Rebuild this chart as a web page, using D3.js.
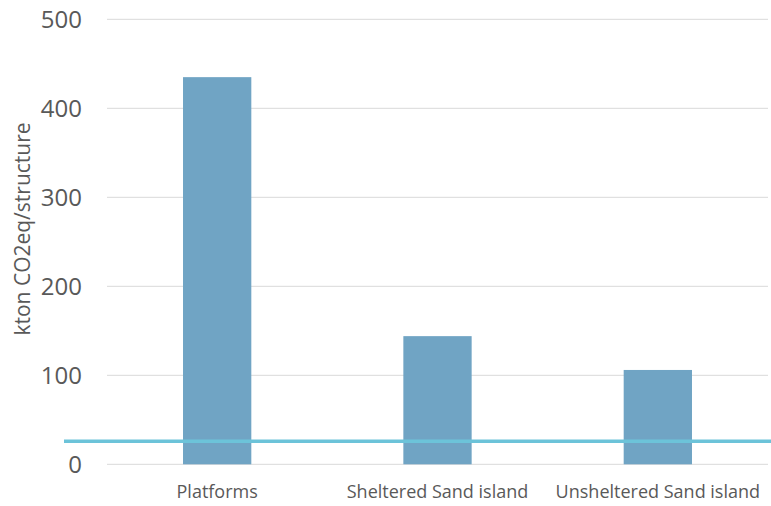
<!DOCTYPE html>
<html>
<head>
<meta charset="utf-8">
<script src="https://cdn.jsdelivr.net/npm/d3@7"></script>
<style>
  html, body { margin: 0; padding: 0; background: #fff; }
  svg { display: block; font-family: "Open Sans", "Noto Sans", sans-serif; }
</style>
</head>
<body>
<svg id="chart" width="771" height="506"></svg>
<script>
const categories = ["Platforms", "Sheltered Sand island", "Unsheltered Sand island"];
const values = [435, 144, 106];
const referenceValue = 26;
const yTicks = [0, 100, 200, 300, 400, 500];
const yTitle = "kton CO2eq/structure";

const W = 771, H = 506;
const margin = { left: 107, right: 3, top: 19.3, bottom: 41.7 };
const svg = d3.select("#chart");

const x = d3.scaleBand()
  .domain(categories)
  .range([margin.left, W - margin.right])
  .paddingInner(0.69)
  .paddingOuter(0.345);

const y = d3.scaleLinear()
  .domain([0, 500])
  .range([H - margin.bottom, margin.top]);

// gridlines
svg.append("g")
  .selectAll("line")
  .data(yTicks)
  .join("line")
  .attr("x1", margin.left)
  .attr("x2", W - margin.right)
  .attr("y1", d => y(d))
  .attr("y2", d => y(d))
  .attr("stroke", "#d9d9d9")
  .attr("stroke-width", 1);

// y axis labels
const yAxis = d3.axisLeft(y).tickValues(yTicks).tickSize(0).tickPadding(0);
const gy = svg.append("g")
  .attr("transform", `translate(${82},0)`)
  .call(yAxis);
gy.select(".domain").remove();
gy.selectAll("text")
  .attr("font-size", 24)
  .attr("font-family", "Open Sans, sans-serif")
  .attr("fill", "#595959")
  .attr("dy", "0.35em");

// bars
svg.append("g")
  .selectAll("rect")
  .data(values)
  .join("rect")
  .attr("x", (d, i) => x(categories[i]))
  .attr("width", x.bandwidth())
  .attr("y", d => y(d))
  .attr("height", d => y(0) - y(d))
  .attr("fill", "#70a4c4");

// x axis labels
const xAxis = d3.axisBottom(x).tickSize(0).tickPadding(0);
const gx = svg.append("g")
  .attr("transform", `translate(0,${y(0)})`)
  .call(xAxis);
gx.select(".domain").remove();
gx.selectAll("text")
  .attr("font-size", 18)
  .attr("font-family", "Open Sans, sans-serif")
  .attr("fill", "#595959")
  .attr("y", 34)
  .attr("dy", 0);

// reference line
svg.append("line")
  .attr("x1", 64)
  .attr("x2", W)
  .attr("y1", y(referenceValue))
  .attr("y2", y(referenceValue))
  .attr("stroke", "#6cc3d9")
  .attr("stroke-width", 3.5);

// y title
svg.append("text")
  .attr("transform", `translate(30,${229}) rotate(-90)`)
  .attr("text-anchor", "middle")
  .attr("font-size", 21)
  .attr("fill", "#595959")
  .text(yTitle);
</script>
</body>
</html>
